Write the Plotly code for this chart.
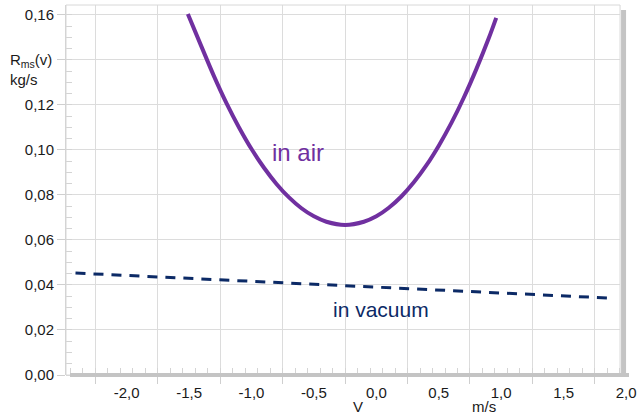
import plotly.graph_objects as go

# Friction resistance R_ms(v) in air (measured curve) and in vacuum (linear fit)
v_air = [-1.51, -1.40, -1.30, -1.20, -1.10, -1.00, -0.90, -0.80, -0.70, -0.60, -0.50, -0.40, -0.25,
         -0.10, 0.00, 0.10, 0.20, 0.30, 0.40, 0.50, 0.60, 0.70, 0.80, 0.90, 0.96]
r_air = [0.1604, 0.1458, 0.1327, 0.1207, 0.1100, 0.1004, 0.0921, 0.0849, 0.0789, 0.0741, 0.0705, 0.0681, 0.0667,
         0.0681, 0.0705, 0.0743, 0.0793, 0.0856, 0.0931, 0.1019, 0.1119, 0.1232, 0.1358, 0.1496, 0.1587]

v_vac = [-2.41, -1.20, 0.00, 1.20, 1.86]
r_vac = [0.0453, 0.0421, 0.0390, 0.0359, 0.0342]

# Axis labelling
x_label_vals = [-2.0, -1.5, -1.0, -0.5, 0.0, 0.5, 1.0, 1.5, 2.0]
x_label_text = [f"{v:.1f}".replace(".", ",") for v in x_label_vals]
y_tick_vals = [0.00, 0.02, 0.04, 0.06, 0.08, 0.10, 0.12, 0.14, 0.16]
y_tick_text = ["" if abs(v - 0.14) < 1e-9 else f"{v:.2f}".replace(".", ",") for v in y_tick_vals]

FONT = "Arial, Liberation Sans, sans-serif"
GRID = "#dcdcdc"
SHADOW = "#c4c4c4"
AIR = "#7030a0"
VAC = "#0c2a66"

x_range = [-2.486, 1.952]
plot_w = 557   # px width of the framed plot area
label_w = 567  # px width spanned by the label axis
px_per_unit = plot_w / (x_range[1] - x_range[0])
x2_range = [x_range[0], x_range[0] + label_w / px_per_unit]

fig = go.Figure()
fig.add_trace(go.Scatter(x=v_air, y=r_air, mode="lines", line=dict(color=AIR, width=4, shape="spline"),
                         hoverinfo="skip", showlegend=False))
fig.add_trace(go.Scatter(x=v_vac, y=r_vac, mode="lines", line=dict(color=VAC, width=3, dash="10px,8px"),
                         hoverinfo="skip", showlegend=False))
# empty trace so the label axis (x2/y2) gets drawn
fig.add_trace(go.Scatter(x=[], y=[], xaxis="x2", yaxis="y2", mode="lines",
                         hoverinfo="skip", showlegend=False))

fig.update_layout(
    width=641, height=419,
    margin=dict(l=66, r=8, t=5, b=44),
    paper_bgcolor="white", plot_bgcolor="rgba(0,0,0,0)",
    font=dict(family=FONT, size=15, color="#1a1a1a"),
    xaxis=dict(
        domain=[0, plot_w / label_w], range=x_range,
        tick0=-2.25, dtick=0.5, showticklabels=False,
        ticks="outside", ticklen=8, tickcolor="#cfcfcf",
        showgrid=True, gridcolor=GRID, gridwidth=1,
        zeroline=False, showline=False,
        minor=dict(tick0=-2.25, dtick=0.1, ticks="inside", ticklen=7, tickcolor="#d4d4d4", showgrid=False),
    ),
    xaxis2=dict(
        domain=[0, 1], range=x2_range, anchor="y2",
        tickmode="array", tickvals=x_label_vals, ticktext=x_label_text,
        ticks="outside", ticklen=4, tickcolor="rgba(0,0,0,0)",
        showgrid=False, zeroline=False, showline=False,
    ),
    yaxis=dict(
        domain=[0, 1], range=[0, 0.1644],
        tickmode="array", tickvals=y_tick_vals, ticktext=y_tick_text,
        ticks="outside", ticklen=8, tickcolor="#cfcfcf",
        showgrid=True, gridcolor=GRID, gridwidth=1,
        zeroline=False, showline=True, linecolor="#d0d0d0", linewidth=1,
        minor=dict(dtick=0.005, ticks="inside", ticklen=6, tickcolor="#d4d4d4", showgrid=False),
    ),
    yaxis2=dict(domain=[0, 1], range=[0, 1], anchor="x2", showgrid=False, zeroline=False,
                showline=False, showticklabels=False, ticks=""),
    shapes=[
        # frame
        dict(type="rect", xref="x domain", yref="y domain", x0=0, x1=1, y0=0, y1=1,
             line=dict(color="#d8d8d8", width=1), layer="above"),
        # right drop shadow
        dict(type="rect", xref="x domain", yref="y domain", xsizemode="pixel", ysizemode="pixel",
             xanchor=1, x0=1, x1=6, yanchor=0, y0=-2, y1=365,
             fillcolor=SHADOW, line=dict(width=0), layer="above"),
        # bottom drop shadow
        dict(type="rect", xref="x domain", yref="y domain", xsizemode="pixel", ysizemode="pixel",
             xanchor=0, x0=4, x1=563, yanchor=0, y0=-2, y1=2,
             fillcolor=SHADOW, line=dict(width=0), layer="above"),
    ],
    annotations=[
        dict(text="R<sub>ms</sub>(v)<br>kg/s", xref="paper", yref="paper", x=-0.1023, y=0.825,
             xanchor="left", yanchor="middle", align="left", showarrow=False,
             font=dict(family=FONT, size=15, color="#1a1a1a")),
        dict(text="V", xref="paper", yref="paper", x=0.5185, y=-0.086,
             xanchor="center", yanchor="middle", showarrow=False,
             font=dict(family=FONT, size=15, color="#1a1a1a")),
        dict(text="m/s", xref="paper", yref="paper", x=0.741, y=-0.086,
             xanchor="center", yanchor="middle", showarrow=False,
             font=dict(family=FONT, size=15, color="#1a1a1a")),
        dict(text="in air", xref="x", yref="y", x=-0.63, y=0.0987,
             xanchor="center", yanchor="middle", showarrow=False,
             font=dict(family=FONT, size=24, color=AIR)),
        dict(text="in vacuum", xref="x", yref="y", x=0.04, y=0.0293,
             xanchor="center", yanchor="middle", showarrow=False,
             font=dict(family=FONT, size=21, color=VAC)),
    ],
)

fig.write_html("out.html")
